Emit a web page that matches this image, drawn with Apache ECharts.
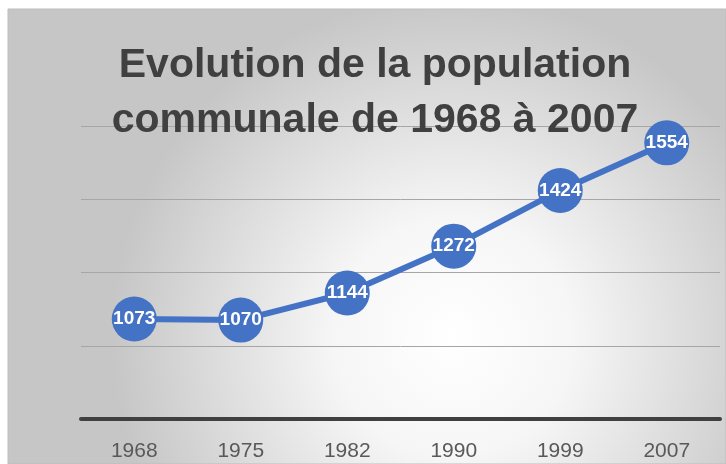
<!DOCTYPE html>
<html>
<head>
<meta charset="utf-8">
<script src="https://cdn.jsdelivr.net/npm/echarts@6/dist/echarts.min.js"></script>
<style>
  html, body { margin: 0; padding: 0; background: #ffffff; }
  #container { width: 726px; height: 464px; }
</style>
</head>
<body>
<div id="container"></div>
<script type="text/javascript">
    // donnees
    var years = ['1968', '1975', '1982', '1990', '1999', '2007'];
    var population = [1073, 1070, 1144, 1272, 1424, 1554];
    var yMin = 800, yMax = 1600, yStep = 200;

    var dom = document.getElementById("container");
    var myChart = echarts.init(dom);
    var option = {
        animation: false,
        graphic: [{
            type: 'rect',
            z: -10,
            shape: { x: 8, y: 9, width: 718, height: 455 },
            style: {
                fill: new echarts.graphic.RadialGradient(0.62, 0.72, 0.75, [
                    { offset: 0, color: '#ffffff' },
                    { offset: 0.35, color: '#f6f6f6' },
                    { offset: 1, color: '#c6c6c6' }
                ]),
                stroke: '#bdbdbd',
                lineWidth: 1
            }
        }],
        title: {
            text: 'Evolution de la population\ncommunale de 1968 à 2007',
            left: 370,
            top: 33,
            textAlign: 'center',
            textStyle: {
                fontFamily: 'Liberation Sans',
                fontSize: 41,
                fontWeight: 'bold',
                color: '#404040',
                lineHeight: 55
            }
        },
        grid: {
            left: 81,
            right: 6,
            top: 126,
            bottom: 45
        },
        xAxis: {
            type: 'category',
            data: years,
            boundaryGap: true,
            axisLine: { lineStyle: { color: '#404040', width: 4 } },
            axisTick: { show: false },
            axisLabel: {
                margin: 22,
                fontFamily: 'Liberation Sans',
                fontSize: 21,
                color: '#595959'
            }
        },
        yAxis: {
            type: 'value',
            min: yMin,
            max: yMax,
            interval: yStep,
            axisLine: { show: false },
            axisTick: { show: false },
            axisLabel: { show: false },
            splitLine: { lineStyle: { color: '#a6a6a6', width: 1 } }
        },
        series: [{
            type: 'line',
            data: population,
            symbol: 'circle',
            symbolSize: 45,
            itemStyle: { color: '#4472C4' },
            lineStyle: { color: '#4472C4', width: 6 },
            label: {
                show: true,
                position: 'inside',
                fontFamily: 'Liberation Sans',
                fontWeight: 'bold',
                fontSize: 19,
                color: '#ffffff'
            }
        }]
    };
    myChart.setOption(option);
</script>
</body>
</html>
